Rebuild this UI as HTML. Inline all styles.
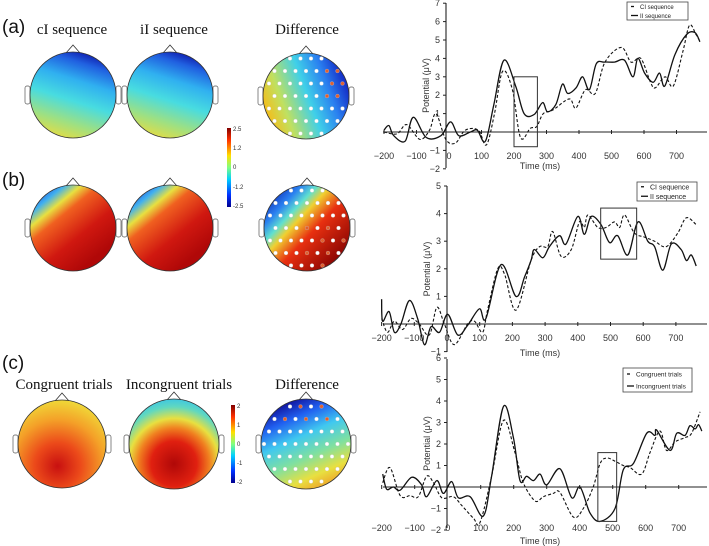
<!DOCTYPE html>
<html><head><meta charset="utf-8"><style>
body{margin:0;background:#fff;}
svg{display:block;font-family:"Liberation Sans",sans-serif;}
.ttl{font-family:"Liberation Serif",serif;font-size:15px;fill:#111;text-anchor:middle;}
.pl{font-size:19px;fill:#111;}
.tk{font-size:9px;fill:#333;}
.cb{font-size:6px;fill:#333;}
</style></head><body>
<svg id="fig" width="709" height="546" viewBox="0 0 709 546" xmlns="http://www.w3.org/2000/svg">
<defs>
<linearGradient id="jet" x1="0" y1="1" x2="0" y2="0">
<stop offset="0" stop-color="#00008f"/><stop offset="0.15" stop-color="#0030ff"/><stop offset="0.35" stop-color="#00d0ff"/><stop offset="0.5" stop-color="#80ff80"/><stop offset="0.65" stop-color="#ffe000"/><stop offset="0.85" stop-color="#ff3000"/><stop offset="1" stop-color="#800000"/></linearGradient>
<linearGradient id="gA" x1="0.62" y1="0" x2="0.3" y2="1">
<stop offset="0" stop-color="#1020b0"/><stop offset="0.12" stop-color="#2060e0"/><stop offset="0.32" stop-color="#30b0f0"/><stop offset="0.55" stop-color="#48dce0"/><stop offset="0.8" stop-color="#a0e080"/><stop offset="1" stop-color="#e8dc40"/></linearGradient>
<linearGradient id="gAd" x1="0.95" y1="0.2" x2="0" y2="0.55">
<stop offset="0" stop-color="#1020c0"/><stop offset="0.25" stop-color="#2a80f0"/><stop offset="0.5" stop-color="#40d0e8"/><stop offset="0.8" stop-color="#c0e060"/><stop offset="1" stop-color="#f0c020"/></linearGradient>
<linearGradient id="gB" x1="0.1" y1="0.05" x2="0.75" y2="0.85">
<stop offset="0" stop-color="#1a40d8"/><stop offset="0.15" stop-color="#40b0f0"/><stop offset="0.27" stop-color="#e8e040"/><stop offset="0.4" stop-color="#f06020"/><stop offset="0.7" stop-color="#d01810"/><stop offset="1" stop-color="#b00808"/></linearGradient>
<linearGradient id="gBd" x1="0.05" y1="0.1" x2="0.9" y2="0.9">
<stop offset="0" stop-color="#0a20b0"/><stop offset="0.18" stop-color="#2a80f0"/><stop offset="0.3" stop-color="#60e0d0"/><stop offset="0.4" stop-color="#f0d030"/><stop offset="0.58" stop-color="#e83010"/><stop offset="1" stop-color="#800000"/></linearGradient>
<radialGradient id="gC1" cx="0.45" cy="0.75" r="0.75">
<stop offset="0" stop-color="#c81010"/><stop offset="0.35" stop-color="#ec4a1a"/><stop offset="0.7" stop-color="#f4a028"/><stop offset="1" stop-color="#f0d838"/></radialGradient>
<radialGradient id="gC2" cx="0.5" cy="0.72" r="0.72">
<stop offset="0" stop-color="#b00808"/><stop offset="0.35" stop-color="#e02010"/><stop offset="0.55" stop-color="#f08020"/><stop offset="0.7" stop-color="#e8e040"/><stop offset="0.88" stop-color="#60d8c0"/><stop offset="1" stop-color="#40c8e0"/></radialGradient>
<linearGradient id="gCd" x1="0.35" y1="0" x2="0.8" y2="1">
<stop offset="0" stop-color="#10109a"/><stop offset="0.18" stop-color="#2060f0"/><stop offset="0.38" stop-color="#40c8f0"/><stop offset="0.6" stop-color="#80e0a0"/><stop offset="0.8" stop-color="#e8e040"/><stop offset="1" stop-color="#f09020"/></linearGradient>
</defs>

<text class="pl" x="2" y="33">(a)</text>
<text class="ttl" x="72" y="34">cI sequence</text>
<text class="ttl" x="174" y="34">iI sequence</text>
<text class="ttl" x="307" y="34">Difference</text>
<text class="pl" x="2" y="186">(b)</text>
<text class="pl" x="2" y="369">(c)</text>
<text class="ttl" x="64" y="389">Congruent trials</text>
<text class="ttl" x="179" y="389">Incongruent trials</text>
<text class="ttl" x="307" y="389">Difference</text>

<g id="heads"></g>

<rect x="227" y="128" width="4" height="79" fill="url(#jet)"/>
<text class="cb" x="233" y="131">2.5</text><text class="cb" x="233" y="150">1.2</text><text class="cb" x="233" y="169">0</text><text class="cb" x="233" y="189">-1.2</text><text class="cb" x="233" y="208">-2.5</text>
<rect x="231" y="405" width="4" height="78" fill="url(#jet)"/>
<text class="cb" x="237" y="408">2</text><text class="cb" x="237" y="427">1</text><text class="cb" x="237" y="446">0</text><text class="cb" x="237" y="465">-1</text><text class="cb" x="237" y="484">-2</text>

<g id="charts"></g>
</svg>
<script>
// ---- Chart A data ----
const timesA_II=[-200,-185,-170,-135,-110,-70,-25,5,30,66,87,112,138,169,205,231,262,288,303,329,349,365,391,411,432,453,478,509,540,566,581,602,628,648,664,695,731,757,772];
const valsA_II=[0.1,0.35,-0.2,-0.5,0.8,-0.3,-0.2,0.55,-0.2,0,0.1,-0.5,1.5,3.9,2.5,1.0,0.95,1.6,1.1,1.5,2.6,2.1,2.4,3.0,2.3,3.7,3.8,3.8,3.9,3.0,4.0,3.2,2.7,3.2,2.5,4.2,5.3,5.4,4.9];
const timesA_CI=[-200,-160,-130,-90,-60,-40,-10,20,50,90,115,140,165,195,220,250,270,290,320,370,390,420,450,480,530,560,590,620,635,665,690,720,740,760,770];
const valsA_CI=[0,-0.1,0.4,-0.4,0.1,1.0,-0.4,-0.6,0.1,0.1,-0.7,1.0,3.3,2.3,-0.3,0.2,0.3,1.0,1.2,1.8,1.3,2.3,2.1,3.8,4.6,3.8,4.0,2.7,2.4,3.0,2.5,4.4,5.8,5.3,5.0];
// ---- Chart B data ----
const timesB_II=[-200,-197,-177,-161,-141,-115,-90,-69,-49,-23,2,33,63,99,119,165,211,237,257,267,293,313,344,364,400,420,441,471,497,522,553,584,614,635,660,686,716,732,747,762];
const valsB_II=[0.9,0.1,0.45,-0.3,0,0.85,0.2,-0.75,-0.1,-0.3,0.35,-0.4,-0.05,0.55,0.2,2.15,1.0,1.7,2.3,2.7,2.4,2.8,3.2,2.9,3.9,3.25,3.9,3.6,2.95,3.2,2.5,3.7,3.0,2.8,1.95,2.9,2.7,2.3,2.5,2.1];
const timesB_CI=[-200,-182,-161,-136,-110,-85,-54,-31,-8,22,63,84,109,124,155,176,211,257,283,308,323,349,380,405,420,431,461,487,512,528,543,573,604,635,670,706,732,762];
const valsB_CI=[0.2,-0.3,0.1,-0.2,0.2,0,-0.4,0.6,0,-0.75,0,0.1,-0.3,0.5,2.0,1.8,0.5,2.3,2.8,2.8,3.35,2.45,2.7,3.7,3.5,3.95,3.5,3.5,3.7,3.5,3.95,3.3,3.15,3.0,2.8,3.3,3.85,3.6];
// ---- Chart C data ----
const timesC_Inc=[-197,-185,-165,-144,-109,-79,-64,-33,-13,12,32,68,108,133,169,199,219,239,260,280,300,340,376,401,431,462,507,532,563,603,628,633,674,694,719,734,750,760,770];
const valsC_Inc=[0.6,-0.1,0,-0.15,0.45,0.1,-0.45,0.3,-0.3,0.25,-0.5,-0.45,-1.35,0.5,3.75,2.3,0.3,0.5,0.3,0.6,0.1,0.85,-0.5,0,-1.2,-1.6,-1.0,0.8,1.1,2.5,2.4,2.65,1.7,2.5,2.4,2.85,2.7,2.9,2.6];
const timesC_Con=[-197,-175,-144,-114,-89,-64,-43,-18,17,42,78,98,133,169,204,229,265,290,320,340,381,411,441,462,482,507,532,553,588,613,643,663,689,719,739,765];
const valsC_Con=[0.2,0.9,-0.4,-0.4,-0.45,0.5,0.2,-0.5,-0.45,-0.85,-1.45,-1.65,0.5,3.1,1.6,0.2,-0.65,-0.45,-0.3,-0.25,-1.4,-1.0,0,1.1,1.35,1.2,1.0,0.9,0.6,1.6,2.6,1.7,2.1,2.3,2.5,3.5];
const xTicks=[-200,-100,0,100,200,300,400,500,600,700];
const yTicksA=[7,6,5,4,3,2,1,-1,-2];
const yTicksB=[5,4,3,2,1,-1];
const yTicksC=[6,5,4,3,2,1,-1,-2];

const NS="http://www.w3.org/2000/svg";
function mk(tag,attrs,parent){const e=document.createElementNS(NS,tag);for(const k in attrs)e.setAttribute(k,attrs[k]);parent.appendChild(e);return e;}
function smooth(pts){let d="M"+pts[0][0].toFixed(1)+","+pts[0][1].toFixed(1);
 for(let i=0;i<pts.length-1;i++){const p0=pts[Math.max(i-1,0)],p1=pts[i],p2=pts[i+1],p3=pts[Math.min(i+2,pts.length-1)];
 const c1=[p1[0]+(p2[0]-p0[0])/6,p1[1]+(p2[1]-p0[1])/6],c2=[p2[0]-(p3[0]-p1[0])/6,p2[1]-(p3[1]-p1[1])/6];
 d+="C"+c1.map(v=>v.toFixed(1))+" "+c2.map(v=>v.toFixed(1))+" "+p2[0].toFixed(1)+","+p2[1].toFixed(1);}return d;}

const charts=document.getElementById('charts');
function chart(c){
 const g=mk('g',{},charts);
 
 
 const X=t=>c.x0+t*c.xs, Y=v=>c.y0-v*c.ys;
 const xa=mk('line',{x1:383,x2:707,y1:Y(0),y2:Y(0),stroke:'#222','stroke-width':1.1},g);
 
 const ya=mk('line',{x1:c.yax,x2:c.yax,y1:c.ytop,y2:c.ybot,stroke:'#222','stroke-width':1.1},g);
 
 xTicks.forEach(t=>{
  if(t!==0){const tk=mk('line',{x1:X(t),x2:X(t),y1:Y(0)-2,y2:Y(0)+2,stroke:'#222'},g);
  }
  const tl=mk('text',{x:X(t),y:c.xly,'text-anchor':'middle',class:'tk'},g);tl.textContent=t<0?'\u2212'+(-t):t;
  
 });
 c.yt.forEach(v=>{const tk=mk('line',{x1:c.yax-3,x2:c.yax,y1:Y(v),y2:Y(v),stroke:'#222'},g);
  
  const tl=mk('text',{x:c.yax-6,y:Y(v)+3,'text-anchor':'end',class:'tk'},g);tl.textContent=v<0?'\u2212'+(-v):v;
  });
 const xt=mk('text',{x:540,y:c.tly,'text-anchor':'middle',class:'tk','font-size':'9.5'},g);xt.textContent='Time (ms)';
 
 const ym=(c.ytop+c.ybot)/2;
 const yt=mk('text',{x:0,y:0,'text-anchor':'middle',class:'tk',transform:`translate(${c.yax-17},${ym}) rotate(-90)`},g);yt.textContent='Potential (\u03bcV)';
 
 c.series.forEach(s=>{const pts=s.t.map((t,i)=>[X(t),Y(s.v[i])]);
  const p=mk('path',{d:smooth(pts),fill:'none',stroke:'#111','stroke-width':s.dash?1.1:1.3,'stroke-dasharray':s.dash?'3,2':'none'},g);
  });
 const b=mk('rect',{x:X(c.box[0]),y:Y(c.box[3]),width:X(c.box[1])-X(c.box[0]),height:Y(c.box[2])-Y(c.box[3]),fill:'none',stroke:'#333','stroke-width':1},g);
 
 const L=c.leg;const lg=mk('g',{},g);
 
 mk('rect',{x:L.x,y:L.y,width:L.w,height:L.h,fill:'#fff',stroke:'#444','stroke-width':0.8},lg);
 L.items.forEach((it,i)=>{const yy=L.y+L.h*(i+0.5)/2;
  mk('line',{x1:L.x+4,x2:L.x+(i?11:7),y1:yy,y2:yy,stroke:'#111','stroke-width':1.3},lg);
  const tx=mk('text',{x:L.x+13,y:yy+2.5,'font-size':L.fs,fill:'#222'},lg);tx.textContent=it;
  });
}
chart({name:'chart-a',x0:449,xs:0.325,y0:132,ys:18.4,yax:446,ytop:3,ybot:168,yt:yTicksA,xly:159,tly:169,
 series:[{name:'ci-sequence-line-a',t:timesA_CI,v:valsA_CI,dash:true},{name:'ii-sequence-line-a',t:timesA_II,v:valsA_II}],
 box:[200,272,-0.8,3.0],leg:{x:627,y:2,w:61,h:18,fs:6,items:['CI sequence','II sequence']}});
chart({name:'chart-b',x0:447,xs:0.327,y0:324,ys:27.6,yax:447,ytop:186,ybot:352,yt:yTicksB,xly:341,tly:356,
 series:[{name:'ci-sequence-line-b',t:timesB_CI,v:valsB_CI,dash:true},{name:'ii-sequence-line-b',t:timesB_II,v:valsB_II}],
 box:[470,580,2.35,4.2],leg:{x:637,y:182,w:60,h:19,fs:7,items:['CI sequence','II sequence']}});
chart({name:'chart-c',x0:447.7,xs:0.33,y0:487,ys:21.5,yax:447,ytop:359,ybot:528,yt:yTicksC,xly:531,tly:544,
 series:[{name:'congruent-line',t:timesC_Con,v:valsC_Con,dash:true},{name:'incongruent-line',t:timesC_Inc,v:valsC_Inc}],
 box:[455,512,-1.6,1.6],leg:{x:623,y:368,w:69,h:24,fs:6.5,items:['Congruent trials','Incongruent trials']}});

// ---- topographic maps ----
const heads=document.getElementById('heads');
function head(name,cx,cy,r,fill,dots,hot){
 const g=mk('g',{},heads);
 
 mk('path',{d:`M${cx-7},${cy-r+1} L${cx},${cy-r-7} L${cx+7},${cy-r+1}`,fill:'none',stroke:'#333','stroke-width':0.8},g);
 mk('rect',{x:cx-r-5,y:cy-9,width:5,height:18,rx:2,fill:'#fff',stroke:'#555','stroke-width':0.7},g);
 mk('rect',{x:cx+r,y:cy-9,width:5,height:18,rx:2,fill:'#fff',stroke:'#555','stroke-width':0.7},g);
 mk('circle',{cx:cx,cy:cy,r:r,fill:`url(#${fill})`,stroke:'#333','stroke-width':0.8},g);
 if(dots){
  for(let j=-3;j<=3;j++)for(let i=-4;i<=4;i++){
   const px=cx+i*10.5+(j%2?5:0), py=cy+j*12.5;
   const d=Math.hypot(px-cx,py-cy); if(d>r-2) continue;
   const isHot=hot(i,j);
   const e=mk('circle',{cx:px,cy:py,r:1.9,fill:isHot?'#e06030':'#fff',stroke:'#ccc','stroke-width':0.3},g);
   
   
  }
 }
}
head('topomap-ci-sequence',73,95,43,'gA');
head('topomap-ii-sequence',170,95,43,'gA');
head('topomap-difference-a',306,96,43,'gAd',true,(i,j)=>i>=2&&j<=0&&j>=-2);
head('topomap-ci-sequence-b',73,228,43,'gB');
head('topomap-ii-sequence-b',170,228,43,'gB');
head('topomap-difference-b',307,228,43,'gBd',true,(i,j)=>i>=0&&j>=0&&(i+j)%2==0);
head('topomap-congruent',62,444,44,'gC1');
head('topomap-incongruent',174,444,45,'gC2');
head('topomap-difference-c',306,444,45,'gCd',true,(i,j)=>j<=-2&&i>=-2&&i<=2&&(i+j)%2==0);
</script>
</body></html>
